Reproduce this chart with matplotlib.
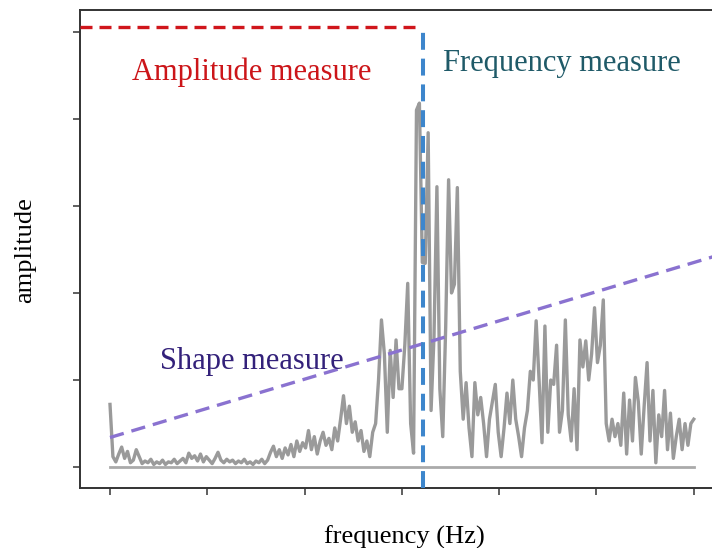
import matplotlib.pyplot as plt
import numpy as np

plt.rcParams['font.family'] = ['Liberation Serif', 'DejaVu Serif']

# spectrum amplitude, sampled evenly over 0..300 Hz
amplitude = [
    0.72, 0.12, 0.06, 0.15, 0.23, 0.10, 0.18, 0.05, 0.08, 0.20,
    0.12, 0.04, 0.07, 0.05, 0.09, 0.03, 0.06, 0.04, 0.08, 0.03,
    0.06, 0.05, 0.09, 0.04, 0.07, 0.10, 0.05, 0.16, 0.10, 0.13,
    0.07, 0.15, 0.06, 0.12, 0.08, 0.04, 0.10, 0.17, 0.08, 0.05,
    0.09, 0.06, 0.08, 0.04, 0.07, 0.05, 0.09, 0.04, 0.06, 0.03,
    0.07, 0.05, 0.09, 0.04, 0.08, 0.17, 0.24, 0.12, 0.20, 0.10,
    0.22, 0.14, 0.26, 0.12, 0.30, 0.18, 0.28, 0.22, 0.42, 0.20,
    0.35, 0.15, 0.30, 0.40, 0.25, 0.33, 0.20, 0.45, 0.30, 0.55,
    0.82, 0.50, 0.70, 0.40, 0.52, 0.30, 0.42, 0.18, 0.30, 0.12,
    0.40, 0.50, 1.00, 1.69, 1.30, 0.40, 1.34, 0.80, 1.46, 0.90,
    0.90, 1.40, 2.11, 0.50, 0.16, 4.10, 4.18, 2.35, 2.34, 3.84,
    0.65, 1.50, 3.22, 0.90, 0.35, 1.60, 3.30, 2.00, 2.10, 3.21,
    1.10, 0.55, 0.97, 0.45, 0.12, 0.97, 0.60, 0.80, 0.50, 0.12,
    0.55, 0.75, 0.95, 0.40, 0.12, 0.45, 0.85, 0.50, 1.00, 0.55,
    0.35, 0.12, 0.45, 0.65, 1.10, 1.00, 1.68, 1.00, 0.28, 1.62,
    0.40, 1.00, 0.95, 1.40, 0.40, 0.65, 1.69, 0.60, 0.30, 0.90,
    0.20, 1.46, 1.15, 1.45, 1.00, 1.30, 1.83, 1.20, 1.40, 1.92,
    0.50, 0.30, 0.55, 0.35, 0.50, 0.25, 0.85, 0.15, 0.77, 0.30,
    1.03, 0.75, 0.15, 0.70, 1.20, 0.30, 0.88, 0.05, 0.60, 0.35,
    0.88, 0.20, 0.62, 0.10, 0.35, 0.55, 0.20, 0.50, 0.25, 0.50,
    0.55,
]
freq = np.linspace(0, 300, len(amplitude))

peak_freq = 160.6
peak_amp = 5.06
shape_x = [0, 315]
shape_y = [0.34, 2.45]

fig = plt.figure(figsize=(7.12, 5.48), dpi=100)
ax = fig.add_axes([0.1124, 0.1095, 0.90, 0.8723])

ax.plot([0, 300], [0, 0], color='#aaaaaa', lw=2.0, zorder=1)
ax.plot(freq, amplitude, color='#9a9a9a', lw=2.4, zorder=2)

ax.plot([-15.4, 158.5], [peak_amp, peak_amp], color='#d0161c', lw=2.4,
        dashes=(3.6, 2.1), zorder=3)
ax.plot([peak_freq, peak_freq], [-0.24, peak_amp], color='#3d86cc', lw=2.9,
        dashes=(4.2, 2.2), zorder=4)
ax.plot(shape_x, shape_y, color='#8a72d0', lw=2.4, dashes=(4.3, 2.4), zorder=3)

ax.text(73, 4.53, 'Amplitude measure', color='#cc1519', fontsize=22,
        ha='center', va='center')
ax.text(232, 4.63, 'Frequency measure', color='#1f5a68', fontsize=22,
        ha='center', va='center')
ax.text(72.7, 1.21, 'Shape measure', color='#33217a', fontsize=22,
        ha='center', va='center')

ax.set_xlim(-15.4, 313.9)
ax.set_ylim(-0.24, 5.25)
ax.set_xticks(np.arange(0, 301, 50))
ax.set_yticks(np.arange(0, 6, 1))
ax.set_xticklabels([])
ax.set_yticklabels([])
ax.tick_params(direction='out', length=5, width=1.2, color='#444444')
for side in ['left', 'bottom', 'top']:
    ax.spines[side].set_linewidth(1.4)
    ax.spines[side].set_color('#333333')
ax.spines['right'].set_visible(False)

fig.text(25 / 712, 1 - 250 / 548, 'amplitude', rotation=90, fontsize=19,
         ha='center', va='center')
fig.text(404 / 712, 1 - 537 / 548, 'frequency (Hz)', fontsize=19,
         ha='center', va='center')

fig.savefig('out.png', dpi=100)
